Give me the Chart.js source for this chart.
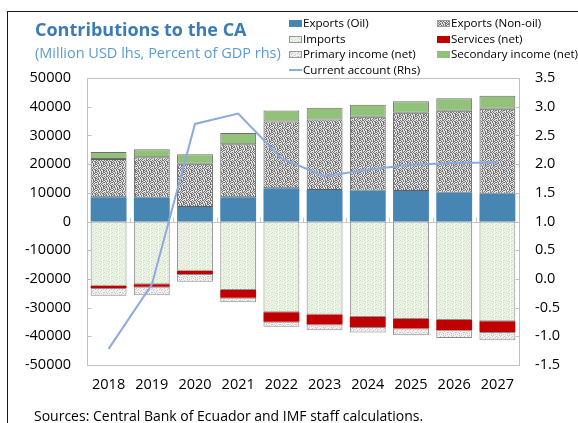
<!DOCTYPE html>
<html>
<head>
<meta charset="utf-8">
<script src="https://cdn.jsdelivr.net/npm/chart.js@4.4.1/dist/chart.umd.min.js"></script>
<style>
  html, body { margin: 0; padding: 0; background: #fff; }
  #wrap { position: relative; width: 578px; height: 423px; overflow: hidden; font-family: "Open Sans", sans-serif; }
  #wrap canvas { position: absolute; left: 0; top: 0; }
  .txt { position: absolute; white-space: nowrap; line-height: 1; }
  #title { left: 35px; top: 20px; font-size: 18px; font-weight: bold; color: #3b7bb6; }
  #subtitle { left: 35px; top: 46px; font-size: 14.5px; color: #5b9bd5; }
  #sources { left: 34px; top: 409px; font-size: 14px; color: #000; }
  .leg { position: absolute; height: 14px; font-size: 11.6px; line-height: 14px; color: #000; white-space: nowrap; }
  .sw { position: absolute; left: 0; top: 4px; width: 13px; height: 7px; box-sizing: border-box; }
  .leg span.lbl { position: absolute; left: 14px; top: 0; }
  #frame { position: absolute; left: 7px; top: 11px; width: 600px; height: 500px; border-left: 1.5px solid #1a1a1a; border-top: 1.5px solid #1a1a1a; }
</style>
</head>
<body>
<div id="wrap">
  <div id="frame"></div>
  <canvas id="c" width="578" height="423"></canvas>
  <div class="txt" id="title">Contributions to the CA</div>
  <div class="txt" id="subtitle">(Million USD lhs, Percent of GDP rhs)</div>
  <div id="legend"></div>
  <div class="txt" id="sources">Sources: Central Bank of Ecuador and IMF staff calculations.</div>
</div>
<script>
// Years on the category axis
const years = ['2018', '2019', '2020', '2021', '2022', '2023', '2024', '2025', '2026', '2027'];

// Balance of payments components, million USD (left axis)
const exportsOil    = [8430, 8300, 5050, 8430, 11570, 10940, 10700, 10590, 10000, 9650];
const exportsNonOil = [13350, 14070, 15090, 18500, 23310, 24580, 25770, 27280, 28570, 29620];
const imports       = [-22370, -21880, -17140, -23870, -31640, -32410, -33250, -33950, -34300, -34760];
const servicesNet   = [-800, -830, -1150, -2680, -3270, -3500, -3500, -3360, -3600, -3740];
const primaryIncome = [-2680, -3000, -2680, -1600, -1750, -2000, -1960, -2340, -2690, -2900];
const secondaryIncome = [2440, 2790, 3270, 3900, 3830, 4100, 4190, 4050, 4400, 4540];

// Current account balance, percent of GDP (right axis)
const currentAccount = [-1.22, -0.1, 2.7, 2.88, 2.1, 1.79, 1.9, 1.99, 2.02, 2.03];

// Axis tick settings
const leftTicks = { min: -50000, max: 50000, step: 10000 };
const rightTicks = { min: -1.5, max: 3.5, step: 0.5 };

// Speckled fills for the textured series ('#' marks a dot in an 8x8 tile)
function speckle(bg, fg, rows) {
  const c = document.createElement('canvas');
  c.width = 8; c.height = 8;
  const g = c.getContext('2d');
  g.fillStyle = bg; g.fillRect(0, 0, 8, 8);
  g.fillStyle = fg;
  rows.forEach((r, y) => { for (let x = 0; x < 8; x++) if (r[x] === '#') g.fillRect(x, y, 1, 1); });
  return c;
}
const denseDots = [
  '#.##.#..',
  '.#..#.##',
  '#.#.#..#',
  '.##..#.#',
  '#..#.#.#',
  '.#.#.##.',
  '#.#..#.#',
  '..#.#.#.'
];
const sparseDots = [
  '#...#...',
  '..#....#',
  '.#...#..',
  '....#...',
  '#.#....#',
  '...#.#..',
  '.#.....#',
  '...#.#..'
];
const nonOilTile = speckle('#e2e2e2', '#747474', denseDots);
const importsTile = speckle('#eef5e8', '#cfe0c4', sparseDots);
const primaryTile = speckle('#f2f2f2', '#c2c2c2', sparseDots);

const ctx = document.getElementById('c').getContext('2d');
const nonOilFill = ctx.createPattern(nonOilTile, 'repeat');
const importsFill = ctx.createPattern(importsTile, 'repeat');
const primaryFill = ctx.createPattern(primaryTile, 'repeat');

const barCommon = { type: 'bar', stack: 'ca', yAxisID: 'y', order: 1, barPercentage: 0.83, categoryPercentage: 1, borderSkipped: false };

// Plot frame, zero line and inward tick marks
const decorations = {
  id: 'decorations',
  beforeDatasetsDraw(chart) {
    const { ctx, chartArea: a, scales } = chart;
    const y0 = Math.round(scales.y.getPixelForValue(0)) + 0.5;
    ctx.save();
    ctx.strokeStyle = '#c8c8c8';
    ctx.lineWidth = 1;
    ctx.beginPath();
    ctx.moveTo(a.left, y0); ctx.lineTo(a.right, y0);
    const n = years.length;
    for (let i = 1; i < n; i++) {
      const x = Math.round(a.left + (a.right - a.left) * i / n) + 0.5;
      ctx.moveTo(x, y0); ctx.lineTo(x, y0 - 5);
    }
    ctx.stroke();
    ctx.restore();
  },
  afterDraw(chart) {
    const { ctx, chartArea: a, scales } = chart;
    ctx.save();
    ctx.strokeStyle = '#bfbfbf';
    ctx.lineWidth = 1;
    const L = Math.round(a.left) + 0.5, R = Math.round(a.right) + 0.5;
    const T = Math.round(a.top) + 0.5, B = Math.round(a.bottom) + 0.5;
    ctx.strokeRect(L, T, R - L, B - T);
    ctx.beginPath();
    scales.y.ticks.forEach(t => {
      const y = Math.round(scales.y.getPixelForValue(t.value)) + 0.5;
      ctx.moveTo(L, y); ctx.lineTo(L + 4, y);
    });
    scales.y1.ticks.forEach(t => {
      const y = Math.round(scales.y1.getPixelForValue(t.value)) + 0.5;
      ctx.moveTo(R, y); ctx.lineTo(R - 4, y);
    });
    ctx.stroke();
    ctx.restore();
  }
};

const tickFont = { family: 'Open Sans', size: 14.5 };

const chart = new Chart(ctx, {
  data: {
    labels: years,
    datasets: [
      { ...barCommon, label: 'Exports (Oil)', data: exportsOil, backgroundColor: '#4786b3', borderWidth: 0 },
      { ...barCommon, label: 'Exports (Non-oil)', data: exportsNonOil, backgroundColor: nonOilFill, borderColor: '#5e5e5e', borderWidth: 1 },
      { ...barCommon, label: 'Imports', data: imports, backgroundColor: importsFill, borderColor: '#8c8c8c', borderWidth: 1 },
      { ...barCommon, label: 'Services (net)', data: servicesNet, backgroundColor: '#c00000', borderWidth: 0 },
      { ...barCommon, label: 'Primary income (net)', data: primaryIncome, backgroundColor: primaryFill, borderColor: '#8c8c8c', borderWidth: 1 },
      { ...barCommon, label: 'Secondary income (net)', data: secondaryIncome, backgroundColor: '#92c27a', borderColor: '#6e6e6e', borderWidth: 1 },
      { type: 'line', label: 'Current account (Rhs)', data: currentAccount, yAxisID: 'y1', order: 0,
        borderColor: '#8caadc', borderWidth: 2, pointRadius: 0, tension: 0, fill: false }
    ]
  },
  options: {
    responsive: false,
    animation: false,
    devicePixelRatio: 1,
    layout: { padding: { top: 78, left: 0, right: 0, bottom: 0 } },
    plugins: { legend: { display: false }, title: { display: false }, tooltip: { enabled: false } },
    scales: {
      x: {
        stacked: true,
        grid: { display: false, drawTicks: false },
        border: { display: false },
        ticks: { color: '#000', font: tickFont, padding: 11, maxRotation: 0 },
        afterFit(s) { s.height = 58; }
      },
      y: {
        stacked: true,
        position: 'left',
        min: leftTicks.min, max: leftTicks.max,
        grid: { display: false, drawTicks: false },
        border: { display: false },
        ticks: { stepSize: leftTicks.step, color: '#000', font: tickFont, padding: 16,
                 callback: v => String(Math.round(v)) },
        afterFit(s) { s.width = 87; }
      },
      y1: {
        position: 'right',
        min: rightTicks.min, max: rightTicks.max,
        grid: { display: false, drawTicks: false },
        border: { display: false },
        ticks: { stepSize: rightTicks.step, color: '#000', font: tickFont, padding: 16,
                 callback: v => Number(v).toFixed(1) },
        afterFit(s) { s.width = 59; }
      }
    }
  },
  plugins: [decorations]
});

// Two-column legend built from the chart's datasets
(function buildLegend() {
  const host = document.getElementById('legend');
  const tiles = { 'Exports (Non-oil)': nonOilTile, 'Imports': importsTile, 'Primary income (net)': primaryTile };
  const colX = [289, 437];
  const rowY = [16, 31.5, 47, 62.5];
  chart.data.datasets.forEach((ds, i) => {
    const item = document.createElement('div');
    item.className = 'leg';
    item.style.left = colX[i % 2] + 'px';
    item.style.top = rowY[Math.floor(i / 2)] + 'px';
    const sw = document.createElement('div');
    sw.className = 'sw';
    if (ds.type === 'line') {
      sw.style.top = '6.5px';
      sw.style.height = '2px';
      sw.style.background = ds.borderColor;
    } else if (tiles[ds.label]) {
      sw.style.backgroundImage = 'url(' + tiles[ds.label].toDataURL() + ')';
      sw.style.border = '1px solid #999';
    } else {
      sw.style.background = ds.backgroundColor;
    }
    const lbl = document.createElement('span');
    lbl.className = 'lbl';
    lbl.textContent = ds.label;
    item.appendChild(sw);
    item.appendChild(lbl);
    host.appendChild(item);
  });
})();
</script>
</body>
</html>
